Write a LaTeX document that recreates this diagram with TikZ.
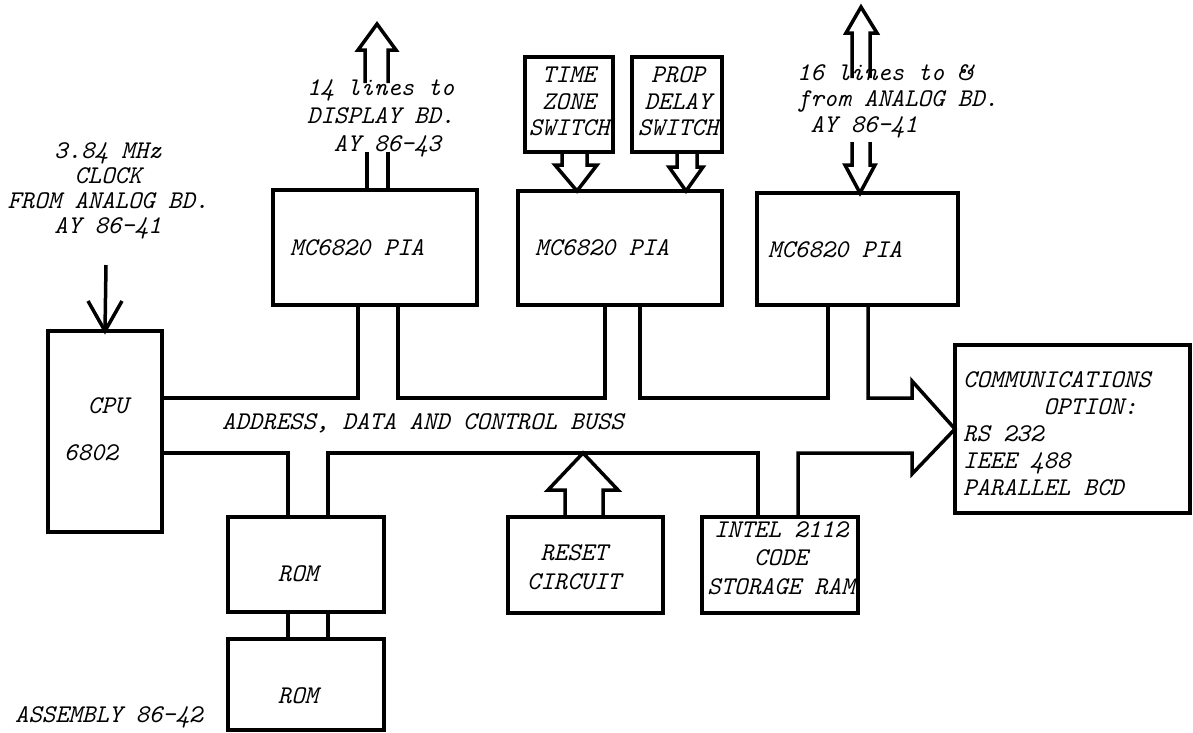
\documentclass[tikz,border=0pt]{standalone}
\usetikzlibrary{calc}
\newcommand\tyf[1]{\fontsize{25.5}{#1}\selectfont\ttfamily\itshape}
\begin{document}
\begin{tikzpicture}[x=1pt,y=-1pt,
  box/.style={draw,line width=3.5pt,outer sep=0pt,inner sep=0pt},
  wire/.style={line width=3.5pt,line join=miter},
  txt/.style={inner sep=0pt,font=\tyf{27}}]
\useasboundingbox (0,0) rectangle (1193,732);

% boxes
\node[box,minimum width=114pt,minimum height=201pt] (cpu) at (105,431.5) {};
\node[box,minimum width=204pt,minimum height=115pt] (pia1) at (375,247.5) {};
\node[box,minimum width=204pt,minimum height=114pt] (pia2) at (620,248) {};
\node[box,minimum width=201pt,minimum height=112pt] (pia3) at (857.5,249) {};
\node[box,minimum width=88pt,minimum height=95pt] (time) at (569,104.5) {};
\node[box,minimum width=90pt,minimum height=95pt] (prop) at (677,104.5) {};
\node[box,minimum width=235pt,minimum height=168pt] (comm) at (1072.5,429) {};
\node[box,minimum width=156pt,minimum height=95pt] (rom1) at (306,564.5) {};
\node[box,minimum width=156pt,minimum height=91pt] (rom2) at (306,684.5) {};
\node[box,minimum width=155pt,minimum height=96pt] (reset) at (585.5,565) {};
\node[box,minimum width=156pt,minimum height=96pt] (intel) at (780,565) {};

% texts
\node[txt,align=center,font=\tyf{25}] (clktxt) at (108,191) {3.84 MHz\\CLOCK\\FROM ANALOG BD.\\AY 86-41};
\node[txt,align=left,anchor=west,font=\tyf{28}] (dsptxt) at (307,118) {14 lines to\\DISPLAY BD.\\\hspace*{1.05em}AY 86-43};
\node[txt,align=left,anchor=west,font=\tyf{26}] (anltxt) at (797,101) {16 lines to \&\\from ANALOG BD.\\\hspace*{0.525em}AY 86-41};
\node[txt,align=center,font=\tyf{26.5}] (timetxt) at (569,101.5) {TIME\\ZONE\\SWITCH};
\node[txt,align=center,font=\tyf{26.5}] (proptxt) at (678,101.5) {PROP\\DELAY\\SWITCH};
\node[txt,anchor=west] (pia1txt) at (290,248) {MC6820 PIA};
\node[txt,anchor=west] (pia2txt) at (535,248) {MC6820 PIA};
\node[txt,anchor=west] (pia3txt) at (768,250) {MC6820 PIA};
\node[txt] (cputxt) at (108,406) {CPU};
\node[txt] (cpunum) at (91,453) {6802};
\node[txt,anchor=west] (bustxt) at (222,423) {ADDRESS, DATA AND CONTROL BUSS};
\node[txt] (rom1txt) at (298,574) {ROM};
\node[txt] (rom2txt) at (298,696) {ROM};
\node[txt,align=center,font=\tyf{29}] (resettxt) at (574,567) {RESET\\CIRCUIT};
\node[txt,align=center,font=\tyf{28.5}] (inteltxt) at (781,558) {INTEL 2112\\CODE\\STORAGE RAM};
\node[txt,align=left,anchor=west,font=\tyf{27}] (commtxt) at (963,434) {COMMUNICATIONS\\\hspace*{3.15em}OPTION:\\RS 232\\IEEE 488\\PARALLEL BCD};
\node[txt,anchor=west] (asmtxt) at (15,717) {ASSEMBLY 86-42};

% helper coordinates
\coordinate (busT) at (0,398);
\coordinate (busB) at (0,453);
\coordinate (clk) at (106,265);
\coordinate (dsu) at (376.5,83);
\coordinate (anu) at (861,78);
\coordinate (anl) at (861,142);

% clock arrow
\draw[wire] (clk) -- (cpu.north);
\draw[wire] ([xshift=-17pt,yshift=30pt]cpu.north) -- (cpu.north) -- ([xshift=17pt,yshift=30pt]cpu.north);

% bus, upper side
\draw[wire] (cpu.east |- busT) -| ([xshift=85pt]pia1.south west);
\draw[wire] ([xshift=125pt]pia1.south west) |- ([xshift=87pt]pia2.south west |- busT) -- ([xshift=87pt]pia2.south west);
\draw[wire] ([xshift=122pt]pia2.south west) |- ([xshift=71pt]pia3.south west |- busT) -- ([xshift=71pt]pia3.south west);
\draw[wire] ([xshift=111pt]pia3.south west) |- ([xshift=-43pt]comm.west |- busT)
  -- ([xshift=-43pt,yshift=48pt]comm.west) -- (comm.west) -- ([xshift=-43pt,yshift=-45pt]comm.west)
  -- ([xshift=-43pt]comm.west |- busB) -| ([xshift=96pt]intel.north west);
% bus, lower side
\draw[wire] ([xshift=56pt]intel.north west) |- ([xshift=100pt]rom1.north west |- busB) -- ([xshift=100pt]rom1.north west);
\draw[wire] ([xshift=60pt]rom1.north west) |- (cpu.east |- busB);

% rom links
\draw[wire] ([xshift=60pt]rom1.south west) -- ([xshift=60pt]rom2.north west);
\draw[wire] ([xshift=100pt]rom1.south west) -- ([xshift=100pt]rom2.north west);

% reset arrow
\draw[wire] ([xshift=57pt]reset.north west) -- ++(0,-27) -- ++(-17,0)
  -- ([xshift=75pt]reset.north west |- busB) -- ([xshift=110pt,yshift=27pt]reset.north west)
  -- ++(-15,0) -- ([xshift=95pt]reset.north west);

% switch arrows
\draw[wire] ([xshift=37pt]time.south west) -- ++(0,13) -- ++(-7,0)
  -- ([xshift=59pt]pia2.north west) -- ([xshift=72pt,yshift=-13pt]time.south west)
  -- ++(-10,0) -- ([xshift=62pt]time.south west);
\draw[wire] ([xshift=45pt]prop.south west) -- ++(0,15) -- ++(-8,0)
  -- ([xshift=168pt]pia2.north west) -- ([xshift=71pt,yshift=-15pt]prop.south west)
  -- ++(-6,0) -- ([xshift=65pt]prop.south west);

% display lines
\draw[wire] ([xshift=94pt]pia1.north west) -- ++(0,-38);
\draw[wire] ([xshift=115pt]pia1.north west) -- ++(0,-38);
\draw[wire] ([xshift=-11.5pt]dsu) -- ++(0,-33) -- ++(-7,0) -- ++(19,-26) -- ++(19,26) -- ++(-8,0) -- ([xshift=11.5pt]dsu);

% analog lines
\draw[wire] ([xshift=-9pt]anu) -- ++(0,-45) -- ++(-6,0) -- ++(15,-26) -- ++(16,26) -- ++(-7,0) -- ([xshift=9pt]anu);
\draw[wire] ([xshift=-9pt]anl) -- ++(0,23) -- ++(-7,0) -- ([xshift=103pt]pia3.north west)
  -- ([xshift=14pt,yshift=-23pt]anl) -- ++(-5,0) -- ([xshift=9pt]anl);
\end{tikzpicture}
\end{document}
